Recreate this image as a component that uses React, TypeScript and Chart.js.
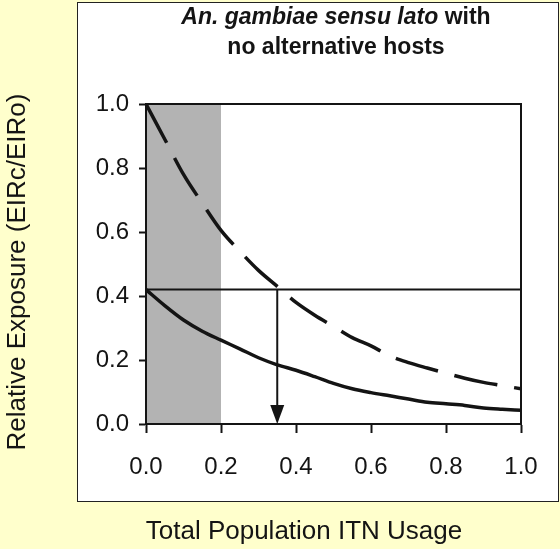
import React, { useEffect, useRef } from "react";
import { Chart, registerables } from "chart.js";

Chart.register(...registerables);

const itnUsage = [0, 0.05, 0.1, 0.15, 0.2, 0.25, 0.3, 0.35, 0.4, 0.45, 0.5, 0.55, 0.6, 0.65, 0.7, 0.75, 0.8, 0.85, 0.9, 0.95, 1.0];
const exposureNonUsers = [1.0, 0.89, 0.78, 0.69, 0.605, 0.54, 0.48, 0.43, 0.38, 0.34, 0.305, 0.27, 0.244, 0.213, 0.192, 0.175, 0.159, 0.143, 0.13, 0.12, 0.11];
const exposureUsers = [0.42, 0.37, 0.325, 0.29, 0.262, 0.235, 0.207, 0.185, 0.168, 0.148, 0.127, 0.11, 0.098, 0.088, 0.078, 0.068, 0.063, 0.058, 0.05, 0.046, 0.043];
const referenceLevel = 0.42;
const arrowUsage = 0.35;
const shadedRange = [0, 0.2];
const xTickLabels = ["0.0", "0.2", "0.4", "0.6", "0.8", "1.0"];
const yTickLabels = ["0.0", "0.2", "0.4", "0.6", "0.8", "1.0"];

const FONT = "'Liberation Sans', Arial, Helvetica, sans-serif";
const INK = "#141414";

const decorPlugin = {
  id: "decor",
  beforeDatasetsDraw(chart: any) {
    const { ctx, chartArea, scales } = chart;
    const x = scales.x;
    ctx.save();
    ctx.fillStyle = "#b3b3b3";
    const x0 = x.getPixelForValue(shadedRange[0]);
    const x1 = x.getPixelForValue(shadedRange[1]);
    ctx.fillRect(x0, chartArea.top, x1 - x0, chartArea.bottom - chartArea.top);
    ctx.restore();
  },
  afterDatasetsDraw(chart: any) {
    const { ctx, chartArea, scales } = chart;
    const x = scales.x;
    const y = scales.y;
    ctx.save();
    // frame
    ctx.strokeStyle = INK;
    ctx.lineWidth = 2;
    ctx.strokeRect(chartArea.left, chartArea.top, chartArea.right - chartArea.left, chartArea.bottom - chartArea.top);
    // reference line
    const yr = y.getPixelForValue(referenceLevel);
    ctx.beginPath();
    ctx.moveTo(chartArea.left, yr);
    ctx.lineTo(chartArea.right, yr);
    ctx.stroke();
    // arrow
    const xa = x.getPixelForValue(arrowUsage);
    const yb = y.getPixelForValue(0);
    const headH = 19;
    const headW = 7;
    ctx.beginPath();
    ctx.moveTo(xa, yr);
    ctx.lineTo(xa, yb - headH + 2);
    ctx.stroke();
    ctx.fillStyle = INK;
    ctx.beginPath();
    ctx.moveTo(xa, yb);
    ctx.lineTo(xa - headW, yb - headH);
    ctx.lineTo(xa + headW, yb - headH);
    ctx.closePath();
    ctx.fill();
    ctx.restore();
  },
};

export default function App() {
  const canvasRef = useRef<HTMLCanvasElement | null>(null);

  useEffect(() => {
    document.body.style.margin = "0";
    const canvas = canvasRef.current;
    if (!canvas) return;
    const chart = new Chart(canvas, {
      type: "line",
      data: {
        datasets: [
          {
            label: "Non-users",
            data: itnUsage.map((u, i) => ({ x: u, y: exposureNonUsers[i] })),
            borderColor: INK,
            borderWidth: 3.5,
            borderDash: [44, 17],
            pointRadius: 0,
            tension: 0.4,
            cubicInterpolationMode: "monotone",
            fill: false,
          },
          {
            label: "Users",
            data: itnUsage.map((u, i) => ({ x: u, y: exposureUsers[i] })),
            borderColor: INK,
            borderWidth: 3.5,
            pointRadius: 0,
            tension: 0.4,
            cubicInterpolationMode: "monotone",
            fill: false,
          },
        ],
      },
      options: {
        animation: false,
        responsive: false,
        maintainAspectRatio: false,
        layout: { padding: { left: 0, top: 104, right: 39, bottom: 0 } },
        plugins: { legend: { display: false }, tooltip: { enabled: false }, title: { display: false } },
        scales: {
          x: {
            type: "linear",
            min: 0,
            max: 1,
            ticks: {
              stepSize: 0.2,
              maxRotation: 0,
              autoSkip: false,
              padding: 20,
              color: INK,
              font: { family: FONT, size: 24 },
              callback: (_v: any, i: number) => xTickLabels[i],
            },
            grid: { drawOnChartArea: false, tickLength: 9, tickWidth: 2, tickColor: INK },
            border: { color: INK, width: 2 },
            afterFit: (s: any) => {
              s.height = 125;
            },
          },
          y: {
            type: "linear",
            min: 0,
            max: 1,
            ticks: {
              stepSize: 0.2,
              autoSkip: false,
              padding: 10,
              color: INK,
              font: { family: FONT, size: 24 },
              callback: (_v: any, i: number) => yTickLabels[i],
            },
            grid: { drawOnChartArea: false, tickLength: 7, tickWidth: 2, tickColor: INK },
            border: { color: INK, width: 2 },
            afterFit: (s: any) => {
              s.width = 146;
            },
          },
        },
      },
      plugins: [decorPlugin],
    });
    return () => chart.destroy();
  }, []);

  return (
    <div style={{ position: "fixed", left: 0, top: 0, width: 560, height: 549, background: "#FFFFCC", fontFamily: FONT, overflow: "hidden" }}>
      <div style={{ position: "absolute", left: 77, top: 2, width: 482, height: 500, boxSizing: "border-box", border: "1.5px solid #222", background: "#ffffff" }} />
      <canvas ref={canvasRef} width={560} height={549} style={{ position: "absolute", left: 0, top: 0, width: 560, height: 549 }} />
      <div style={{ position: "absolute", left: 136, width: 400, top: 1, height: 30, lineHeight: "30px", textAlign: "center", fontSize: 23, fontWeight: "bold", color: INK, whiteSpace: "nowrap" }}>
        <span style={{ fontStyle: "italic" }}>An. gambiae sensu lato</span> with
      </div>
      <div style={{ position: "absolute", left: 136, width: 400, top: 31, height: 30, lineHeight: "30px", textAlign: "center", fontSize: 23, fontWeight: "bold", color: INK, whiteSpace: "nowrap" }}>
        no alternative hosts
      </div>
      <div style={{ position: "absolute", left: 104, width: 400, top: 514, height: 32, lineHeight: "32px", textAlign: "center", fontSize: 26, color: INK, whiteSpace: "nowrap" }}>
        Total Population ITN Usage
      </div>
      <div style={{ position: "absolute", left: 16 - 200, top: 272 - 16, width: 400, height: 32, lineHeight: "32px", textAlign: "center", fontSize: 26, color: INK, whiteSpace: "nowrap", transform: "rotate(-90deg)", transformOrigin: "50% 50%" }}>
        Relative Exposure (EIRc/EIRo)
      </div>
    </div>
  );
}
